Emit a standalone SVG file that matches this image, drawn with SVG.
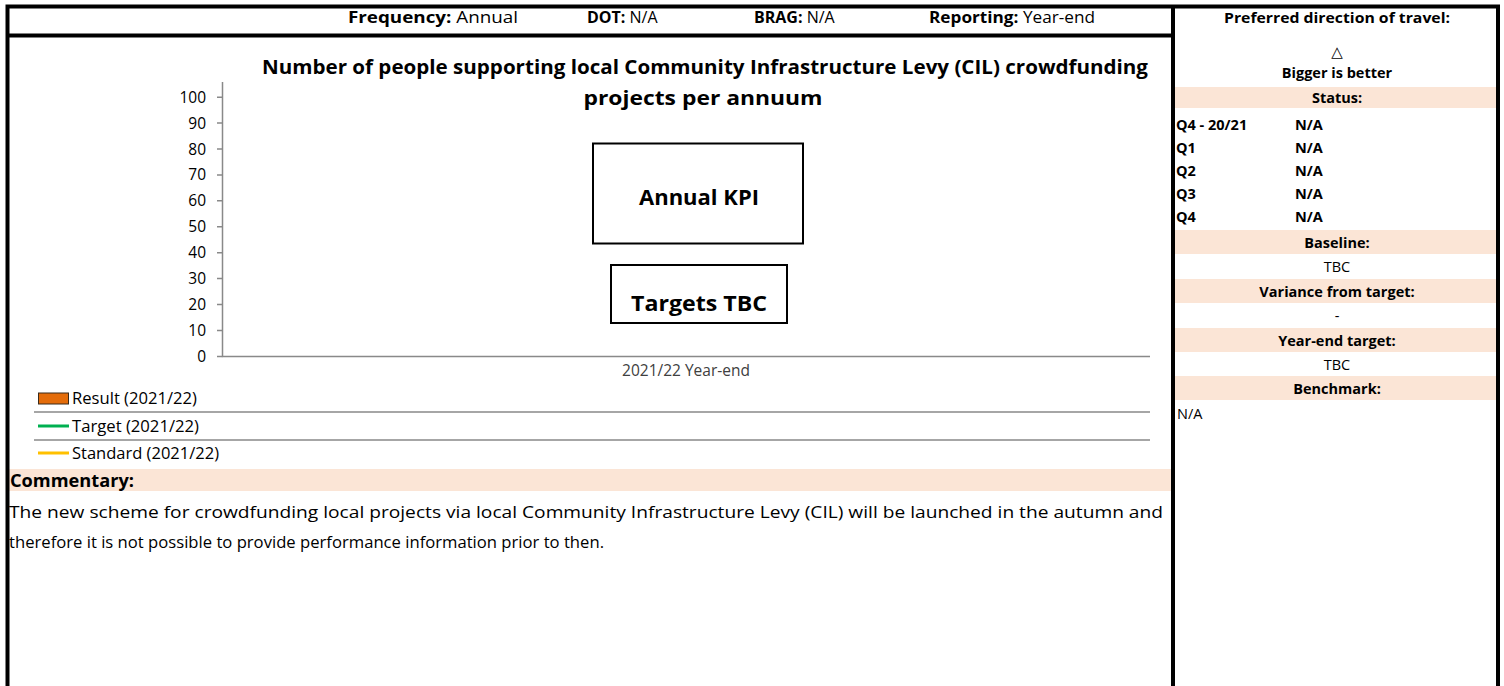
<svg xmlns="http://www.w3.org/2000/svg" width="1504" height="686" viewBox="0 0 1504 686">
  <style>
    text { font-family: "Open Sans", "Liberation Sans", sans-serif; fill: #000; }
    .b { font-weight: bold; }
    .hdr { font-size: 16px; }
    .ttl { font-size: 19px; font-weight: bold; }
    .ax { font-size: 15.5px; fill: #404040; }
    .lg { font-size: 16px; fill: #000; }
    .box { fill: #fff; stroke: #000; stroke-width: 2; }
    .boxt { font-size: 22px; font-weight: bold; text-anchor: middle; }
    .rp { font-size: 14.5px; }
    .mid { text-anchor: middle; }
    .band { fill: #fbe5d6; }
    .frame { stroke: #000; stroke-width: 4; fill: none; }
    .axis { stroke: #898989; stroke-width: 1.5; fill: none; }
    .sep { stroke: #a6a6a6; stroke-width: 2; }
    .com { font-size: 17px; }
  </style>

  <rect width="1504" height="686" fill="#fff"/>

  <!-- shaded label bands -->
  <g id="bands">
    <rect class="band" x="1175" y="87" width="321" height="21"/>
    <rect class="band" x="1175" y="230" width="321" height="24"/>
    <rect class="band" x="1175" y="279" width="321" height="24"/>
    <rect class="band" x="1175" y="328" width="321" height="24"/>
    <rect class="band" x="1175" y="376" width="321" height="24"/>
    <rect class="band" x="8" y="469" width="1163" height="22"/>
  </g>

  <!-- outer frame and dividers -->
  <g id="frame">
    <path class="frame" d="M7.5 686 V6.5 H1498 V686"/>
    <path class="frame" d="M1173 6.5 V686"/>
    <path class="frame" d="M7.5 35.5 H1173"/>
  </g>

  <!-- header strip -->
  <g id="header" class="hdr">
    <text x="348" y="23" textLength="170" lengthAdjust="spacingAndGlyphs"><tspan class="b">Frequency:</tspan> Annual</text>
    <text x="587" y="23"><tspan class="b">DOT:</tspan> N/A</text>
    <text x="754" y="23"><tspan class="b">BRAG:</tspan> N/A</text>
    <text x="929" y="23" textLength="166" lengthAdjust="spacingAndGlyphs"><tspan class="b">Reporting:</tspan> Year-end</text>
  </g>

  <!-- chart title -->
  <g id="title" class="ttl mid">
    <text x="705" y="74" textLength="886" lengthAdjust="spacingAndGlyphs">Number of people supporting local Community Infrastructure Levy (CIL) crowdfunding</text>
    <text x="703" y="105" textLength="239" lengthAdjust="spacingAndGlyphs">projects per annuum</text>
  </g>

  <!-- value axis, ticks and labels -->
  <g id="axes">
    <path class="axis" d="M222.5 82 V356.5 H1150"/>
    <path class="axis" d="M217 97.2 H222.5 M217 123.1 H222.5 M217 149 H222.5 M217 174.9 H222.5 M217 200.8 H222.5 M217 226.8 H222.5 M217 252.7 H222.5 M217 278.6 H222.5 M217 304.5 H222.5 M217 330.4 H222.5 M217 356.5 H222.5"/>
    <g class="ax" text-anchor="end">
      <text x="206" y="102.7">100</text>
      <text x="206" y="128.6">90</text>
      <text x="206" y="154.5">80</text>
      <text x="206" y="180.4">70</text>
      <text x="206" y="206.3">60</text>
      <text x="206" y="232.2">50</text>
      <text x="206" y="258.2">40</text>
      <text x="206" y="284.1">30</text>
      <text x="206" y="310">20</text>
      <text x="206" y="335.9">10</text>
      <text x="206" y="361.8">0</text>
    </g>
    <text class="ax mid" x="686" y="375.5">2021/22 Year-end</text>
  </g>

  <!-- placeholder boxes over the plot area -->
  <g id="node-annual-kpi">
    <rect class="box" x="593" y="143.5" width="210" height="100"/>
    <text class="boxt" x="699" y="205">Annual KPI</text>
  </g>
  <g id="node-targets-tbc">
    <rect class="box" x="611" y="265" width="176" height="58"/>
    <text class="boxt" x="699" y="311" textLength="136" lengthAdjust="spacingAndGlyphs">Targets TBC</text>
  </g>

  <!-- legend -->
  <g id="legend">
    <rect x="38.5" y="393" width="30" height="11" fill="#e46c0a" stroke="#3a2a1a" stroke-width="1"/>
    <text class="lg" x="72" y="404" textLength="125" lengthAdjust="spacingAndGlyphs">Result (2021/22)</text>
    <line class="sep" x1="34" y1="412" x2="1150" y2="412"/>
    <line x1="38" y1="426" x2="69" y2="426" stroke="#00b050" stroke-width="3"/>
    <text class="lg" x="72" y="431.5" textLength="127" lengthAdjust="spacingAndGlyphs">Target (2021/22)</text>
    <line class="sep" x1="34" y1="440" x2="1150" y2="440"/>
    <line x1="38" y1="453" x2="69" y2="453" stroke="#ffc000" stroke-width="3"/>
    <text class="lg" x="72" y="458.5" textLength="147" lengthAdjust="spacingAndGlyphs">Standard (2021/22)</text>
  </g>

  <!-- commentary -->
  <g id="commentary">
    <text class="com b" x="10" y="487" textLength="124" lengthAdjust="spacingAndGlyphs">Commentary:</text>
    <text class="com" x="9" y="518" textLength="1154" lengthAdjust="spacingAndGlyphs">The new scheme for crowdfunding local projects via local Community Infrastructure Levy (CIL) will be launched in the autumn and</text>
    <text class="com" x="9" y="548" textLength="595" lengthAdjust="spacingAndGlyphs">therefore it is not possible to provide performance information prior to then.</text>
  </g>

  <!-- side panel -->
  <g id="side-panel" class="rp">
    <text class="b mid" x="1337" y="23" textLength="226" lengthAdjust="spacingAndGlyphs">Preferred direction of travel:</text>
    <text class="mid" x="1337" y="57" style="font-family: 'DejaVu Sans', sans-serif; font-size: 15px;">△</text>
    <text class="b mid" x="1337" y="78">Bigger is better</text>
    <text class="b mid" x="1337" y="103">Status:</text>
    <text class="b" x="1176" y="130">Q4 - 20/21</text>
    <text class="b" x="1176" y="153">Q1</text>
    <text class="b" x="1176" y="176">Q2</text>
    <text class="b" x="1176" y="199">Q3</text>
    <text class="b" x="1176" y="222">Q4</text>
    <text class="b" x="1295" y="130">N/A</text>
    <text class="b" x="1295" y="153">N/A</text>
    <text class="b" x="1295" y="176">N/A</text>
    <text class="b" x="1295" y="199">N/A</text>
    <text class="b" x="1295" y="222">N/A</text>
    <text class="b mid" x="1337" y="247.5">Baseline:</text>
    <text class="mid" x="1337" y="272">TBC</text>
    <text class="b mid" x="1337" y="296.5">Variance from target:</text>
    <text class="mid" x="1337" y="321">-</text>
    <text class="b mid" x="1337" y="345.5">Year-end target:</text>
    <text class="mid" x="1337" y="370">TBC</text>
    <text class="b mid" x="1337" y="393.5">Benchmark:</text>
    <text x="1177" y="419">N/A</text>
  </g>
</svg>
